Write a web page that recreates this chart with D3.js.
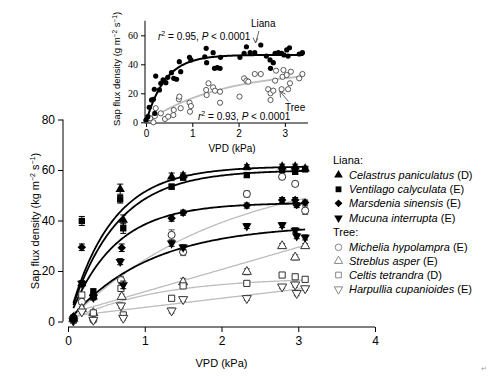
<!DOCTYPE html>
<html><head><meta charset="utf-8">
<script src="https://cdn.jsdelivr.net/npm/d3@7"></script>
<style>body{margin:0;background:#fff}svg{font-family:"Liberation Sans",Arial,sans-serif}</style>
</head><body><svg id="c" width="500" height="381"></svg>
<script>
// ---------- data ----------
const species = ["Celastrus paniculatus","Ventilago calyculata","Marsdenia sinensis","Mucuna interrupta",
                 "Michelia hypolampra","Streblus asper","Celtis tetrandra","Harpullia cupanioides"];
const habit = ["(D)","(E)","(E)","(E)","(E)","(E)","(D)","(E)"];
const groupOf = ["Liana","Liana","Liana","Liana","Tree","Tree","Tree","Tree"];
// [VPD, mean sap flux, SE]
const celastrus = [[0.07,1.5,0.5],[0.18,15,1],[0.33,9.8,1],[0.68,52.4,2],[0.72,40.2,2],[1.35,57.3,1.5],[1.50,57.8,1],[2.33,61.1,1],[2.79,61.3,1],[2.96,61.3,1],[3.09,60.5,1]];
const ventilago = [[0.07,1,0.5],[0.18,39.8,1.8],[0.33,11.8,1.2],[0.68,48.4,1.5],[0.72,36.9,2],[1.35,53.4,1],[1.50,57.0,1],[2.33,58.0,1],[2.79,60.0,1],[2.96,59.3,1],[3.09,60.3,1]];
const marsdenia = [[0.07,2,0.5],[0.18,29.4,1.3],[0.33,10.5,1],[0.70,29.2,1.5],[1.35,40.9,1.2],[1.50,43.1,1],[2.33,45.9,1],[2.79,48.1,1],[2.96,48.1,1],[2.98,46.1,1],[3.09,47.1,1]];
const mucuna = [[0.07,0.5,0.5],[0.18,15.1,1],[0.33,9.5,1],[0.68,23.7,1.2],[0.72,14.5,1.5],[1.35,31.0,1.2],[1.50,29.4,1],[2.33,37.8,1],[2.79,38.2,1],[2.96,36.1,1],[2.98,33.8,1],[3.09,33.3,1]];
const michelia = [[0.07,1.5,0.5],[0.18,7.8,1],[0.33,0.6,0.5],[0.69,16.4,1.5],[1.35,34.3,2],[1.50,27.6,1.5],[2.33,50.5,1.2],[2.79,57.3,1],[2.96,54.5,1],[3.09,43.9,1.5]];
const streblus = [[0.07,1,0.5],[0.18,5,1],[0.33,3.4,0.5],[0.70,9.8,1],[1.50,15.6,1.5],[2.33,19.7,1.2],[2.79,29.9,1],[2.96,25.4,1],[3.09,29.9,1]];
const celtis = [[0.07,0.5,0.3],[0.18,10.5,1],[0.33,3.4,0.5],[0.69,13.1,1],[0.72,2.6,1],[1.35,9.2,1],[1.50,14.1,1],[2.33,15.1,1],[2.79,18.4,1],[2.96,17.7,1],[3.09,16.7,1]];
const harpullia = [[0.07,0.3,0.3],[0.18,3.9,0.8],[0.33,0.6,0.5],[0.69,6.3,1],[0.72,1.4,0.8],[1.35,4.3,1],[1.50,8.8,0.8],[2.33,9.2,0.8],[2.79,13.8,0.8],[2.96,14.6,1],[2.98,11.2,1],[3.09,13.1,0.8]];
const seriesData = [celastrus, ventilago, marsdenia, mucuna, michelia, streblus, celtis, harpullia];
// fitted curves: y = y0 + a*(1-exp(-b*x)) + m*x
const fitY0 = [0,0,0,0,0,3,0,2];
const fitA  = [61.5,60,47,38.5,62,0,17.5,0];
const fitB  = [1.8,1.65,1.7,0.95,0.5,0,0.9,0];
const fitM  = [0,0,0,0,0,8.8,0,3.6];
const xTicks = [0,1,2,3,4];
const yTicks = [0,20,40,60,80];

// inset data (individual observations)
const lianaVPD  = [0.00,0.04,0.07,0.12,0.16,0.18,0.19,0.21,0.29,0.32,0.37,0.43,0.47,0.55,0.60,0.66,0.72,0.75,0.94,0.97,1.27,1.30,1.31,1.45,1.48,1.54,1.61,1.60,2.03,2.12,2.17,2.25,2.35,2.48,2.60,2.68,2.69,2.75,2.79,2.86,2.93,2.98,3.04,3.10,3.07,3.31,3.38];
const lianaFlux = [1.6,3.9,10.3,15.4,15.9,22.8,6.2,31.9,22.3,26.9,29.2,27.3,31.0,34.2,30.3,29.7,41.8,34.9,44.8,43.0,45.2,51.0,41.1,48.0,37.2,37.7,44.8,37.2,44.8,47.6,52.1,48.0,48.0,53.3,45.7,43.0,37.2,41.1,47.6,48.0,47.6,46.4,49.9,51.4,45.7,47.1,48.0];
const treeVPD  = [0.01,0.09,0.16,0.19,0.21,0.32,0.41,0.48,0.59,0.60,0.71,0.72,0.75,0.94,0.95,0.97,1.30,1.31,1.35,1.45,1.49,1.60,1.60,2.02,2.12,2.17,2.21,2.35,2.48,2.64,2.69,2.69,2.75,2.79,2.81,2.93,2.95,2.97,3.04,3.07,3.11,3.13,3.31,3.38];
const treeFlux = [1.1,2.8,0,4.3,9.7,6.2,2.3,3.9,5.0,8.5,15.9,17.7,9.7,13.5,7.3,11.2,22.3,18.8,26.9,24.1,21.8,21.1,13.5,17.7,30.3,28.7,28.0,33.3,33.3,22.8,20.0,15.4,21.8,28.7,35.6,22.8,31.4,36.1,32.6,22.8,26.9,34.9,30.3,33.3];
const insetFitA = [46.5, 36];
const insetFitB = [2.4, 0.62];
const insetXTicks = [0,1,2,3];
const insetYTicks = [0,20,40,60];

// ---------- drawing ----------
const svg = d3.select("#c");
const x = d3.scaleLinear().domain([0,4]).range([68,375]);
const y = d3.scaleLinear().domain([0,80]).range([321.5,119.5]);
const fmt = d3.format("d");

const shapesFilled = [d3.symbolTriangle, d3.symbolSquare, d3.symbolSquare, d3.symbolTriangle];
const shapesOpen   = [d3.symbolCircle, d3.symbolTriangle, d3.symbolSquare, d3.symbolTriangle];
const sizes = [38, 40, 36, 38, 40, 36, 38, 36];
function symbolFor(i, scale=1){
  const t = i<4 ? shapesFilled[i] : shapesOpen[i-4];
  return d3.symbol().type(t).size(sizes[i]*scale)();
}
const rotFor = i => (i===3 || i===7) ? 180 : (i===2 ? 45 : 0);

// axes
const yAx = svg.append("g").attr("transform","translate(63,0)")
  .call(d3.axisLeft(y).tickValues(yTicks).tickFormat(fmt).tickSize(5).tickPadding(3));
const xAx = svg.append("g").attr("transform","translate(0,327)")
  .call(d3.axisBottom(x).tickValues(xTicks).tickFormat(fmt).tickSize(5).tickPadding(4));
[yAx,xAx].forEach(g=>{
  g.select(".domain").attr("stroke","#000").attr("d", g===yAx ? `M0,${y(0)}V${y(80)}` : `M${x(0)},0H${x(4)}`);
  g.selectAll(".tick line").attr("stroke","#000");
  g.selectAll("text").attr("font-size",12).attr("fill","#000").attr("font-family","Liberation Sans, Arial, sans-serif");
});
svg.append("text").attr("x",221.5).attr("y",367).attr("text-anchor","middle").attr("font-size",11).text("VPD (kPa)");
const yl = svg.append("text").attr("transform","translate(39,221) rotate(-90)").attr("text-anchor","middle").attr("font-size",11);
yl.append("tspan").text("Sap flux density (kg m");
yl.append("tspan").attr("font-size",7).attr("dy",-4).text("−2");
yl.append("tspan").attr("dy",4).text(" s");
yl.append("tspan").attr("font-size",7).attr("dy",-4).text("−1");
yl.append("tspan").attr("dy",4).text(")");

// fitted curves
const fitFn = (i,v) => fitY0[i] + fitA[i]*(1-Math.exp(-fitB[i]*v)) + fitM[i]*v;
const line = d3.line().x(d=>x(d[0])).y(d=>y(d[1]));
const vs = d3.range(0.07, 3.1001, 0.02);
[4,5,6,7,0,1,2,3].forEach(i=>{
  svg.append("path").attr("d", line(vs.map(v=>[v, fitFn(i,v)])))
    .attr("fill","none").attr("stroke", i<4 ? "#000" : "#bdbdbd").attr("stroke-width", i<4 ? 1.8 : 1.3);
});

// points with error bars
[4,5,6,7,0,1,2,3].forEach(i=>{
  const col = i<4 ? "#000" : "#555";
  const g = svg.append("g");
  seriesData[i].forEach(([v,m,se])=>{
    const px = x(v);
    g.append("path").attr("d",`M${px},${y(m-se)}V${y(m+se)}M${px-3},${y(m-se)}H${px+3}M${px-3},${y(m+se)}H${px+3}`)
      .attr("stroke",col).attr("stroke-width",1).attr("fill","none");
    g.append("path").attr("d", symbolFor(i))
      .attr("transform",`translate(${px},${y(m)}) rotate(${rotFor(i)})`)
      .attr("fill", i<4 ? "#000" : "#fff").attr("stroke", i<4 ? "none" : "#333").attr("stroke-width",1);
  });
});

// legend
const lg = svg.append("g").attr("font-size",11);
lg.append("text").attr("x",333).attr("y",164).text("Liana:");
lg.append("text").attr("x",333).attr("y",236).text("Tree:");
const legY = [175,189.3,203.3,218,247.3,261,275,289.3];
species.forEach((s,i)=>{
  lg.append("path").attr("d", symbolFor(i, 0.85))
    .attr("transform",`translate(338.5,${legY[i]}) rotate(${rotFor(i)})`)
    .attr("fill", i<4 ? "#000" : "#fff").attr("stroke", i<4 ? "none" : "#888").attr("stroke-width",1);
  const t = lg.append("text").attr("x",349).attr("y",legY[i]+4);
  t.append("tspan").attr("font-style","italic").text(s);
  t.append("tspan").text(" " + habit[i]);
});

// ---------- inset ----------
const ix = d3.scaleLinear().domain([0,3.5]).range([146,308]);
const iy = d3.scaleLinear().domain([0,70]).range([122.3,20.8]);
const ig = svg.append("g");
const iyAx = ig.append("g").attr("transform","translate(145,0)")
  .call(d3.axisLeft(iy).tickValues(insetYTicks).tickFormat(fmt).tickSize(4).tickPadding(3));
const ixAx = ig.append("g").attr("transform","translate(0,123)")
  .call(d3.axisBottom(ix).tickValues(insetXTicks).tickFormat(fmt).tickSize(4).tickPadding(3));
iyAx.select(".domain").attr("d",`M0,${iy(0)+1}V${iy(70)}`).attr("stroke","#000");
ixAx.select(".domain").attr("d",`M145,0H${ix(3.5)}`).attr("stroke","#000");
iyAx.selectAll("text").attr("font-size",10).attr("font-family","Liberation Serif, Times New Roman, serif").attr("fill","#000");
ixAx.selectAll("text").attr("font-size",10).attr("font-family","Liberation Sans, Arial, sans-serif").attr("fill","#000");
ig.selectAll(".tick line").attr("stroke","#000");
ig.append("text").attr("x",232).attr("y",152).attr("text-anchor","middle").attr("font-size",10).text("VPD (kPa)");
const iyl = ig.append("text").attr("transform","translate(120,69) rotate(-90)").attr("text-anchor","middle").attr("font-size",9.5);
iyl.append("tspan").text("Sap flux density (g m");
iyl.append("tspan").attr("font-size",6.5).attr("dy",-3.5).text("−2");
iyl.append("tspan").attr("dy",3.5).text(" s");
iyl.append("tspan").attr("font-size",6.5).attr("dy",-3.5).text("−1");
iyl.append("tspan").attr("dy",3.5).text(")");

// inset curves
const iline = d3.line().x(d=>ix(d[0])).y(d=>iy(d[1]));
const ivs = d3.range(0.0, 3.4001, 0.02);
ig.append("path").attr("d", iline(ivs.map(v=>[v, insetFitA[1]*(1-Math.exp(-insetFitB[1]*v))])))
  .attr("fill","none").attr("stroke","#bdbdbd").attr("stroke-width",1.8);
treeVPD.forEach((v,k)=>{
  ig.append("circle").attr("cx",ix(v)).attr("cy",iy(treeFlux[k])).attr("r",2.6)
    .attr("fill","#fff").attr("stroke","#333").attr("stroke-width",0.8);
});
ig.append("path").attr("d", iline(ivs.map(v=>[v, insetFitA[0]*(1-Math.exp(-insetFitB[0]*v))])))
  .attr("fill","none").attr("stroke","#000").attr("stroke-width",2);
lianaVPD.forEach((v,k)=>{
  ig.append("circle").attr("cx",ix(v)).attr("cy",iy(lianaFlux[k])).attr("r",2.6).attr("fill","#000");
});

// annotations
function stat(xp, yp, r2){
  const t = ig.append("text").attr("x",xp).attr("y",yp).attr("font-size",10);
  t.append("tspan").attr("font-style","italic").text("r");
  t.append("tspan").attr("font-size",7).attr("dy",-4).text("2");
  t.append("tspan").attr("dy",4).text(" = " + r2 + ", ");
  t.append("tspan").attr("font-style","italic").text("P");
  t.append("tspan").text(" < 0.0001");
}
stat(158, 40, "0.95");
stat(198, 120, "0.93");
ig.append("text").attr("x",251).attr("y",27).attr("font-size",10).text("Liana");
ig.append("text").attr("x",285).attr("y",111).attr("font-size",10).text("Tree");
ig.append("path").attr("d","M259,31 L255.5,43 M253,37.5 L255.5,43 L258,38").attr("stroke","#555").attr("fill","none").attr("stroke-width",0.9);
ig.append("path").attr("d","M288.5,101.5 L280,91.5 M280.5,97.5 L280,91.5 L285.5,94").attr("stroke","#555").attr("fill","none").attr("stroke-width",0.9);

svg.append("text").attr("x",481).attr("y",371).attr("font-size",7).attr("fill","#999").text("↵");
</script></body></html>
